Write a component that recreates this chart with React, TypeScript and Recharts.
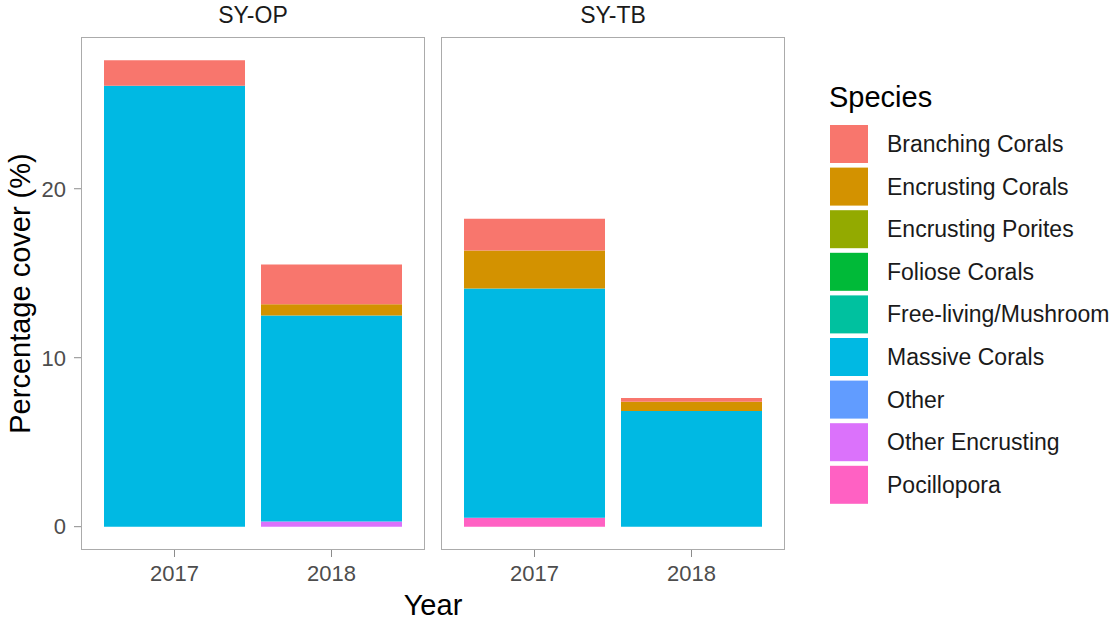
import React from "react";
import { BarChart, Bar, XAxis, YAxis } from "recharts";

const years = ["2017", "2018"];
const sites = ["SY-OP", "SY-TB"];
const species = [
  "Branching Corals",
  "Encrusting Corals",
  "Encrusting Porites",
  "Foliose Corals",
  "Free-living/Mushroom",
  "Massive Corals",
  "Other",
  "Other Encrusting",
  "Pocillopora",
];
const speciesColors = [
  "#F8766D",
  "#D39200",
  "#93AA00",
  "#00BA38",
  "#00C19F",
  "#00B9E3",
  "#619CFF",
  "#DB72FB",
  "#FF61C3",
];

// cover (%) per species, same order as `species`
const syOp2017 = [1.5, 0, 0, 0, 0, 26.1, 0, 0, 0];
const syOp2018 = [2.36, 0.66, 0, 0, 0, 12.2, 0, 0.3, 0];
const syTb2017 = [1.89, 2.24, 0, 0, 0, 13.57, 0, 0, 0.53];
const syTb2018 = [0.22, 0.55, 0, 0, 0, 6.84, 0, 0, 0];

const yTicks = [0, 10, 20];
const yDomain = [-1.38, 28.98];

const FONT = "'Liberation Sans', Arial, Helvetica, sans-serif";
const BORDER = "#ababab";

const toRows = (values: number[][]) =>
  years.map((year, i) => {
    const row: Record<string, string | number> = { year };
    species.forEach((s, j) => {
      row[s] = values[i][j];
    });
    return row;
  });

const panels = [
  { site: sites[0], rows: toRows([syOp2017, syOp2018]) },
  { site: sites[1], rows: toRows([syTb2017, syTb2018]) },
];

// plot rectangles of the two facets
const PANEL_TOP = 37;
const PANEL_BOTTOM = 550;
const panelX = [
  { left: 81, right: 425 },
  { left: 441, right: 785 },
];

// ggplot stacks the first factor level on top, so draw in reverse
const stackOrder = species.map((s, i) => i).reverse();

const Facet = ({ index }: { index: number }) => {
  const { rows } = panels[index];
  const { left, right } = panelX[index];
  const showY = index === 0;
  const chartLeft = showY ? 0 : left - 3;
  const yWidth = showY ? left : 0;
  const width = right + 3 - chartLeft;
  return (
    <div style={{ position: "absolute", left: chartLeft, top: 0 }}>
      <BarChart
        width={width}
        height={621}
        data={rows}
        margin={{ top: PANEL_TOP, right: 3, left: showY ? 0 : 3, bottom: 31 }}
        barCategoryGap={8}
      >
        <XAxis
          dataKey="year"
          height={40}
          padding={{ left: 15, right: 15 }}
          axisLine={false}
          tickSize={7}
          tickMargin={8}
          tickLine={{ stroke: "#8c8c8c" }}
          tick={{ fill: "#4d4d4d", fontSize: 22, fontFamily: FONT }}
        />
        <YAxis
          hide={!showY}
          width={yWidth}
          type="number"
          domain={yDomain}
          ticks={yTicks}
          allowDataOverflow
          axisLine={false}
          tickSize={7}
          tickMargin={8}
          tickLine={{ stroke: "#8c8c8c" }}
          tick={{ fill: "#4d4d4d", fontSize: 22, fontFamily: FONT }}
        />
        {stackOrder.map((i) => (
          <Bar
            key={species[i]}
            dataKey={species[i]}
            stackId="cover"
            fill={speciesColors[i]}
            isAnimationActive={false}
          />
        ))}
      </BarChart>
      <div
        style={{
          position: "absolute",
          left: left - chartLeft,
          top: PANEL_TOP,
          width: right - left,
          height: PANEL_BOTTOM - PANEL_TOP,
          border: `1.5px solid ${BORDER}`,
          boxSizing: "border-box",
          pointerEvents: "none",
        }}
      />
    </div>
  );
};

const KEY_TOP = 125;
const KEY_STEP = 42.6;
const KEY_SIZE = 38;

export default function App() {
  return (
    <div
      style={{
        position: "absolute",
        left: 0,
        top: 0,
        width: 1115,
        height: 621,
        background: "#fff",
        fontFamily: FONT,
      }}
    >
      <Facet index={0} />
      <Facet index={1} />
      <svg
        width={1115}
        height={621}
        style={{ position: "absolute", left: 0, top: 0, pointerEvents: "none" }}
        fontFamily={FONT}
      >
        {panels.map((p, i) => (
          <text
            key={p.site}
            x={(panelX[i].left + panelX[i].right) / 2}
            y={23}
            textAnchor="middle"
            fontSize={23}
            fill="#1a1a1a"
          >
            {p.site}
          </text>
        ))}
        <text
          x={(panelX[0].left + panelX[1].right) / 2}
          y={615}
          textAnchor="middle"
          fontSize={29}
          fill="#000"
        >
          Year
        </text>
        <text
          transform={`translate(30, ${(PANEL_TOP + PANEL_BOTTOM) / 2}) rotate(-90)`}
          textAnchor="middle"
          fontSize={29}
          fill="#000"
        >
          Percentage cover (%)
        </text>
        <text x={829} y={107} fontSize={29} fill="#000">
          Species
        </text>
        {species.map((s, i) => {
          const y = KEY_TOP + i * KEY_STEP;
          return (
            <g key={s}>
              <rect x={830} y={y} width={KEY_SIZE} height={KEY_SIZE} fill={speciesColors[i]} />
              <text x={887} y={y + KEY_SIZE / 2 + 8} fontSize={23} fill="#1a1a1a">
                {s}
              </text>
            </g>
          );
        })}
      </svg>
    </div>
  );
}
